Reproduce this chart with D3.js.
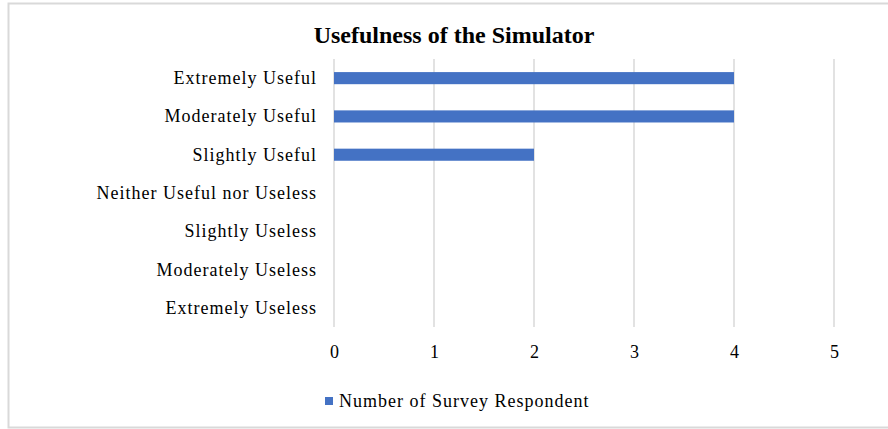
<!DOCTYPE html>
<html>
<head>
<meta charset="utf-8">
<script src="https://cdn.jsdelivr.net/npm/d3@7/dist/d3.min.js"></script>
<style>
  html, body { margin: 0; padding: 0; background: #fff; }
  svg { display: block; }
  text { font-family: "Liberation Serif", "Times New Roman", serif; fill: #000; }
</style>
</head>
<body>
<svg id="chart" width="888" height="429"></svg>
<script>
// Survey responses: how useful respondents found the simulator
const categories = [
  "Extremely Useful",
  "Moderately Useful",
  "Slightly Useful",
  "Neither Useful nor Useless",
  "Slightly Useless",
  "Moderately Useless",
  "Extremely Useless"
];
const respondents = [4, 4, 2, 0, 0, 0, 0];
const xTicks = [0, 1, 2, 3, 4, 5];
const seriesName = "Number of Survey Respondent";
const chartTitle = "Usefulness of the Simulator";

const svg = d3.select("#chart");
const W = 888, H = 429;
const plot = { left: 334, right: 834, top: 59, bottom: 327 };
const barColor = "#4472C4";
const gridColor = "#d9d9d9";

// chart area frame
svg.append("rect")
  .attr("x", 8.5).attr("y", 3.5)
  .attr("width", W + 10).attr("height", H - 5)
  .attr("fill", "#fff")
  .attr("stroke", gridColor).attr("stroke-width", 2);

const x = d3.scaleLinear().domain([0, 5]).range([plot.left, plot.right]);
const y = d3.scaleBand()
  .domain(categories)
  .range([plot.top, plot.bottom])
  .paddingInner(0.684)
  .paddingOuter(0.342);

// vertical gridlines
svg.append("g")
  .selectAll("line")
  .data(xTicks)
  .join("line")
  .attr("x1", d => x(d)).attr("x2", d => x(d))
  .attr("y1", plot.top).attr("y2", plot.bottom)
  .attr("stroke", gridColor).attr("stroke-width", 1.5);

// bars
svg.append("g")
  .selectAll("rect")
  .data(categories.map((c, i) => ({ c, v: respondents[i] })))
  .join("rect")
  .attr("x", x(0))
  .attr("y", d => y(d.c))
  .attr("width", d => x(d.v) - x(0))
  .attr("height", y.bandwidth())
  .attr("fill", barColor);

// category axis
const yAxis = svg.append("g")
  .attr("transform", `translate(${plot.left - 17},0)`)
  .call(d3.axisLeft(y).tickSize(0).tickPadding(0));
yAxis.select(".domain").remove();
yAxis.selectAll("text")
  .attr("font-size", 18)
  .attr("letter-spacing", 1)
  .attr("dy", "0.33em")
  .style("font-family", "'Liberation Serif', 'Times New Roman', serif")
  .attr("fill", "#000");

// value axis
const xAxis = svg.append("g")
  .attr("transform", `translate(0,${plot.bottom})`)
  .call(d3.axisBottom(x).tickValues(xTicks).tickFormat(d3.format("d")).tickSize(0).tickPadding(0));
xAxis.select(".domain").remove();
xAxis.selectAll("text")
  .attr("font-size", 18)
  .attr("y", 31)
  .attr("dy", 0)
  .style("font-family", "'Liberation Serif', 'Times New Roman', serif")
  .attr("fill", "#000");

// title
svg.append("text")
  .attr("x", 454).attr("y", 43)
  .attr("text-anchor", "middle")
  .attr("font-size", 24)
  .attr("font-weight", "bold")
  .text(chartTitle);

// legend
const legend = svg.append("g").attr("transform", "translate(325,397)");
legend.append("rect")
  .attr("width", 8).attr("height", 8)
  .attr("fill", barColor);
legend.append("text")
  .attr("x", 14).attr("y", 10)
  .attr("font-size", 18)
  .attr("letter-spacing", 1)
  .text(seriesName);
</script>
</body>
</html>
